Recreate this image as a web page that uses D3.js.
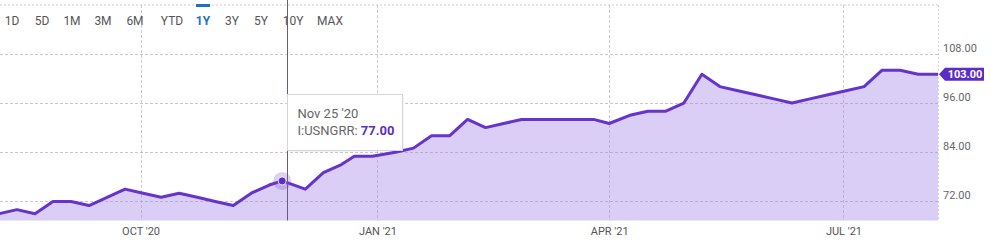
<!DOCTYPE html>
<html>
<head>
<meta charset="utf-8">
<script src="https://cdn.jsdelivr.net/npm/d3@7"></script>
<style>
	body{ margin:0; background:#fff; font-family:Roboto, "Noto Sans", sans-serif; }
	svg{ display:block; }
</style>
</head>
<body>
<svg id="chart" width="991" height="247"></svg>
<script>

var seriesName = "I:USNGRR";

var dates = [
	"2020-08-07","2020-08-14","2020-08-21","2020-08-28","2020-09-04","2020-09-11","2020-09-18","2020-09-25",
	"2020-10-02","2020-10-09","2020-10-16","2020-10-23","2020-10-30","2020-11-06","2020-11-13","2020-11-20",
	"2020-11-25","2020-12-04","2020-12-11","2020-12-18","2020-12-23","2020-12-30","2021-01-08","2021-01-15",
	"2021-01-22","2021-01-29","2021-02-05","2021-02-12","2021-02-19","2021-02-26","2021-03-05","2021-03-12",
	"2021-03-19","2021-03-26","2021-04-01","2021-04-09","2021-04-16","2021-04-23","2021-04-30","2021-05-07",
	"2021-05-14","2021-05-21","2021-05-28","2021-06-04","2021-06-11","2021-06-18","2021-06-25","2021-07-02",
	"2021-07-09","2021-07-16","2021-07-23","2021-07-30","2021-08-06"
];

var values = [
	69, 70, 69, 72, 72, 71, 73, 75,
	74, 73, 74, 73, 72, 71, 74, 76,
	77, 75, 79, 81, 83, 83, 84, 85,
	88, 88, 92, 90, 91, 92, 92, 92,
	92, 92, 91, 93, 94, 94, 96, 103,
	100, 99, 98, 97, 96, 97, 98, 99,
	100, 104, 104, 103, 103
];

var rangeButtons = ["1D","5D","1M","3M","6M","YTD","1Y","3Y","5Y","10Y","MAX"];
var activeRange = "1Y";

var yTicks = [72, 84, 96, 108];
var xTicks = ["2020-10-01","2021-01-01","2021-04-01","2021-07-01"];

var hoverIndex = 16;
var cursorDate = "2020-11-27";

var parse = d3.timeParse("%Y-%m-%d");
var data = dates.map(function(d, i){ return {date: parse(d), value: values[i]}; });

var plotW = 938, plotTop = 5, plotBottom = 220.5;
var lineColor = "#6633cc";

var svg = d3.select("#chart");

var x = d3.scaleTime()
	.domain([new Date(2020, 7, 7, 10), new Date(2021, 7, 6, 17)])
	.range([0, plotW]);

var y = d3.scaleLinear()
	.domain([67.35, 119.9])
	.range([plotBottom, plotTop]);

// area + line
var area = d3.area()
	.x(function(d){ return x(d.date); })
	.y0(plotBottom)
	.y1(function(d){ return y(d.value); });

var line = d3.line()
	.x(function(d){ return x(d.date); })
	.y(function(d){ return y(d.value); });

var ext = data.concat([{date: x.domain()[1], value: values[values.length - 1]}]);

svg.append("path")
	.datum(ext)
	.attr("d", area)
	.attr("fill", "#dacdf6");

// grid
var grid = svg.append("g");
grid.append("line")
	.attr("x1", 0).attr("x2", plotW)
	.attr("y1", plotTop).attr("y2", plotTop)
	.attr("stroke", "#cfcfcf").attr("stroke-dasharray", "2,2");

grid.selectAll(".hgrid")
	.data(yTicks)
	.enter()
	.append("line")
	.attr("x1", 0).attr("x2", plotW)
	.attr("y1", function(d){ return Math.round(y(d)) + 0.5; })
	.attr("y2", function(d){ return Math.round(y(d)) + 0.5; })
	.attr("stroke", "rgba(160,150,175,0.55)")
	.attr("stroke-dasharray", "3,2");

grid.selectAll(".vgrid")
	.data(xTicks.map(parse))
	.enter()
	.append("line")
	.attr("x1", function(d){ return Math.round(x(d)) + 0.5; })
	.attr("x2", function(d){ return Math.round(x(d)) + 0.5; })
	.attr("y1", plotTop).attr("y2", plotBottom)
	.attr("stroke", "rgba(160,150,175,0.5)")
	.attr("stroke-dasharray", "3,2");

grid.append("line")
	.attr("x1", plotW + 0.5).attr("x2", plotW + 0.5)
	.attr("y1", plotTop).attr("y2", plotBottom)
	.attr("stroke", "#d4d4d4").attr("stroke-dasharray", "2,2");

svg.append("path")
	.datum(ext)
	.attr("d", line)
	.attr("fill", "none")
	.attr("stroke", lineColor)
	.attr("stroke-width", 3)
	.attr("stroke-linejoin", "round");

// axes
var yAxis = d3.axisRight(y)
	.tickValues(yTicks)
	.tickSize(0)
	.tickPadding(5)
	.tickFormat(d3.format(".2f"));

var yg = svg.append("g")
	.attr("transform", "translate(" + plotW + ",-6)")
	.call(yAxis);
yg.select(".domain").remove();
yg.selectAll("text")
	.attr("fill", "#666")
	.style("font-size", "11px")
	.style("font-family", "Roboto, sans-serif");

var fmtMonth = d3.timeFormat("%b '%y");
var xAxis = d3.axisBottom(x)
	.tickValues(xTicks.map(parse))
	.tickSize(0)
	.tickPadding(7)
	.tickFormat(function(d){ return fmtMonth(d).toUpperCase(); });

var xg = svg.append("g")
	.attr("transform", "translate(0," + plotBottom + ")")
	.call(xAxis);
xg.select(".domain").remove();
xg.selectAll("text")
	.attr("fill", "#555")
	.style("font-size", "11px")
	.style("font-family", "Roboto, sans-serif");

// last value tag
var lastV = values[values.length - 1];
var ly = y(lastV);
svg.append("path")
	.attr("d", "M" + (plotW + 1) + "," + ly + " L" + (plotW + 7) + "," + (ly - 6.5) +
		" L984," + (ly - 6.5) + " L984," + (ly + 6.5) + " L" + (plotW + 7) + "," + (ly + 6.5) + " Z")
	.attr("fill", "#5c2dc4");
svg.append("text")
	.attr("x", 965).attr("y", ly + 4)
	.attr("text-anchor", "middle")
	.attr("fill", "#fff")
	.style("font-size", "11px")
	.style("font-weight", "bold")
	.text(d3.format(".2f")(lastV));

// range buttons
var btnX = [12, 42, 72, 103, 135, 172, 203, 232, 261, 293, 330];
var btns = svg.append("g");
btns.selectAll("text")
	.data(rangeButtons)
	.enter()
	.append("text")
	.attr("x", function(d, i){ return btnX[i]; })
	.attr("y", 25)
	.attr("text-anchor", "middle")
	.attr("fill", function(d){ return d == activeRange ? "#1f6fc5" : "#555"; })
	.style("font-size", "12px")
	.style("font-weight", function(d){ return d == activeRange ? "bold" : "normal"; })
	.text(function(d){ return d; });
var ai = rangeButtons.indexOf(activeRange);
btns.append("rect")
	.attr("x", btnX[ai] - 7).attr("y", 4)
	.attr("width", 14).attr("height", 3)
	.attr("fill", "#1f6fc5");

// crosshair + hover
var cx = x(parse(cursorDate));
svg.append("line")
	.attr("x1", Math.round(cx) + 0.5).attr("x2", Math.round(cx) + 0.5)
	.attr("y1", 0).attr("y2", plotBottom)
	.attr("stroke", "#6b5b7b").attr("stroke-width", 1);

var hp = data[hoverIndex];
svg.append("circle")
	.attr("cx", x(hp.date)).attr("cy", y(hp.value))
	.attr("r", 9)
	.attr("fill", "rgba(120,70,200,0.25)");
svg.append("circle")
	.attr("cx", x(hp.date)).attr("cy", y(hp.value))
	.attr("r", 4)
	.attr("fill", "#5c2dc4")
	.attr("stroke", "#fff").attr("stroke-width", 0.8);

var tip = svg.append("g")
	.attr("transform", "translate(" + (Math.round(cx) + 0.5) + ",94.5)");
tip.append("rect")
	.attr("x", 1).attr("y", 1)
	.attr("width", 115).attr("height", 56)
	.attr("fill", "rgba(0,0,0,0.08)");
tip.append("rect")
	.attr("width", 115).attr("height", 56)
	.attr("fill", "#fff")
	.attr("stroke", "#d6d6d6");
tip.append("text")
	.attr("x", 10).attr("y", 23)
	.attr("fill", "#666")
	.style("font-size", "13px")
	.text(d3.timeFormat("%b %d '%y")(hp.date));
var t2 = tip.append("text")
	.attr("x", 10).attr("y", 40)
	.attr("fill", "#666")
	.style("font-size", "13px");
t2.append("tspan").text(seriesName + ": ");
t2.append("tspan")
	.attr("fill", "#5c2dc4")
	.style("font-weight", "bold")
	.text(d3.format(".2f")(hp.value));

</script>
</body>
</html>
